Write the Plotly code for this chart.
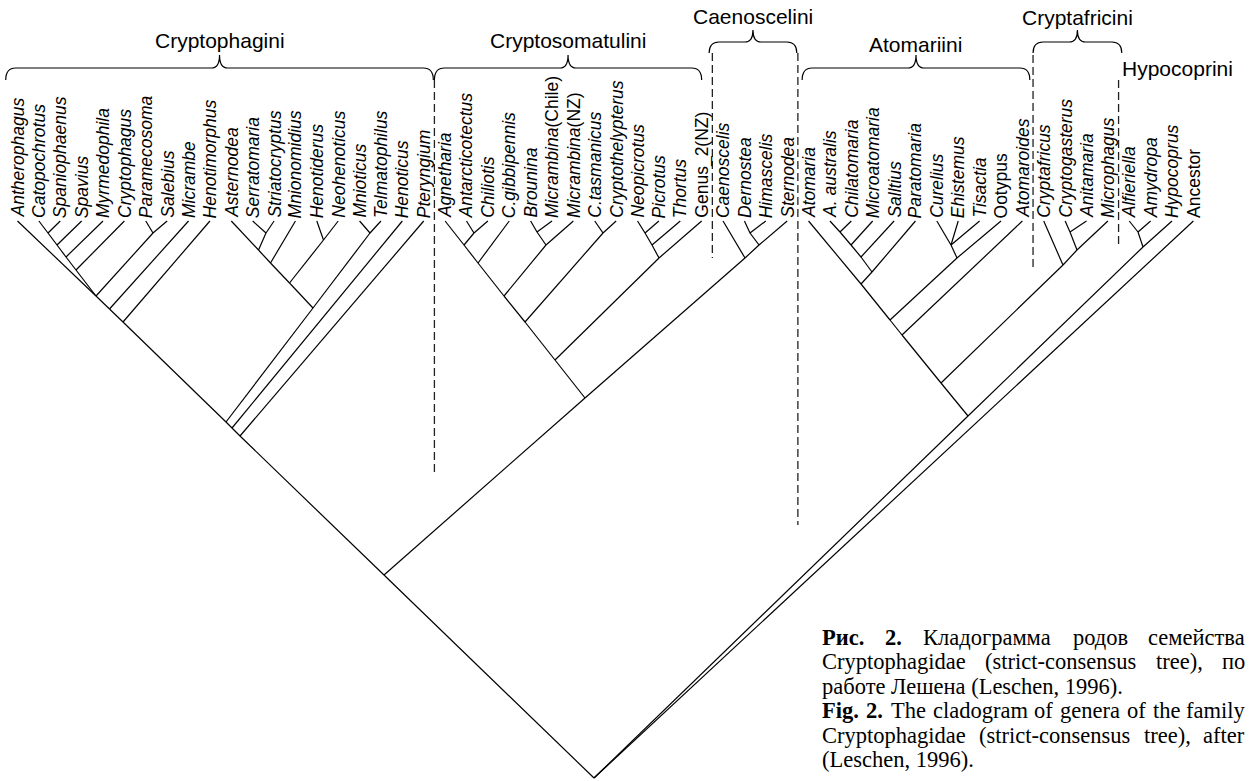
import plotly.graph_objects as go

W, H = 1249, 781

# ------------------------------------------------------------------ DATA
leaf_names = [
    "Antherophagus", "Catopochrotus", "Spaniophaenus", "Spavius", "Myrmedophila",
    "Cryptophagus", "Paramecosoma", "Salebius", "Micrambe", "Henotimorphus",
    "Asternodea", "Serratomaria", "Striatocryptus", "Mnionomidius", "Henotiderus",
    "Neohenoticus", "Mnioticus", "Telmatophilus", "Henoticus", "Pteryngium",
    "Agnetharia", "Antarcticotectus", "Chiliotis", "C.gibbipennis", "Brounina",
    "Micrambina(Chile)", "Micrambina(NZ)", "C.tasmanicus", "Cryptothelypterus",
    "Neopicrotus", "Picrotus", "Thortus", "Genus_2(NZ)",
    "Caenoscelis", "Dernostea", "Himascelis", "Sternodea",
    "Atomaria", "A. australis", "Chilatomaria", "Microatomaria", "Salltius",
    "Paratomaria", "Curelius", "Ehistemus", "Tisactia", "Ootypus", "Atomaroides",
    "Cryptafricus", "Cryptogasterus", "Anitamaria", "Microphagus",
    "Alfieriella", "Amydropa", "Hypocoprus", "Ancestor",
]

# internal nodes of the strict-consensus tree (children, position)
node_ids = [
    "c1", "c2", "c3", "c4", "c5", "n1", "n2", "n3",
    "a1", "a2", "a3", "a4", "a5", "a6", "a7", "n4", "n5", "n6",
    "s1", "s2", "s3", "s4", "s5", "s6", "s7", "s8", "s9", "s10", "s11", "s12",
    "k1", "k2", "k3", "k4", "n7",
    "t1", "t2", "t3", "t4", "t5", "t6", "t7", "t8", "t9",
    "f1", "f2", "f3", "t10", "h1", "h2", "t11", "root",
]
node_children = [
    ["Catopochrotus", "Spaniophaenus"], ["c1", "Spavius"], ["c2", "Myrmedophila"],
    ["c3", "Cryptophagus"], ["Paramecosoma", "Salebius"],
    ["Antherophagus", "c4", "c5"], ["n1", "Micrambe"], ["n2", "Henotimorphus"],
    ["Serratomaria", "Striatocryptus"], ["Asternodea", "a1"], ["a2", "Mnionomidius"],
    ["Henotiderus", "Neohenoticus"], ["a3", "a4"], ["Mnioticus", "Telmatophilus"],
    ["a5", "a6"], ["n3", "a7"], ["n4", "Henoticus"], ["n5", "Pteryngium"],
    ["Antarcticotectus", "Chiliotis"], ["Agnetharia", "s1"], ["s2", "C.gibbipennis"],
    ["Brounina", "Micrambina(Chile)"], ["s4", "Micrambina(NZ)"], ["s3", "s5"],
    ["C.tasmanicus", "Cryptothelypterus"], ["s6", "s7"], ["Neopicrotus", "Picrotus"],
    ["s9", "Thortus"], ["s10", "Genus_2(NZ)"], ["s8", "s11"],
    ["Dernostea", "Himascelis"], ["Sternodea", "k1"], ["k2", "Caenoscelis"],
    ["s12", "k3"], ["n6", "k4"],
    ["A. australis", "Chilatomaria"], ["t1", "Microatomaria"], ["t2", "Salltius"],
    ["t3", "Paratomaria"], ["Atomaria", "t4"], ["Curelius", "Ehistemus", "Tisactia"],
    ["t6", "Ootypus"], ["t5", "t7"], ["t8", "Atomaroides"],
    ["Cryptogasterus", "Anitamaria"], ["f1", "Microphagus"], ["f2", "Cryptafricus"],
    ["t9", "f3"], ["Alfieriella", "Amydropa"], ["h1", "Hypocoprus"], ["t10", "h2"],
    ["n7", "t11", "Ancestor"],
]
node_x = [
    48, 57, 66, 76, 153, 96, 109.5, 123,
    266, 258.5, 270.5, 323.5, 289.5, 370, 313, 226, 232, 240,
    474, 464, 478, 537, 546, 504, 603, 525, 645, 652, 659, 555,
    750, 759, 745, 585, 384,
    840, 851, 861, 872, 861, 951, 957, 890, 902,
    1070, 1077, 1063, 941, 1138, 1143, 968, 594,
]
node_y = [
    233, 245, 257, 270, 233, 296, 309, 322,
    233, 250, 263, 240, 283, 233, 308, 422, 428, 436,
    233, 245, 263, 232, 245, 296, 233, 322, 233, 245, 258, 360,
    233, 245, 258, 398, 575,
    232, 245, 257, 272, 284, 245, 258, 320, 335,
    232, 250, 265, 383, 232, 247, 416, 778,
]

tribe_names = ["Cryptophagini", "Cryptosomatulini", "Caenoscelini",
               "Atomariini", "Cryptafricini", "Hypocoprini"]
tribe_first = ["Antherophagus", "Agnetharia", "Caenoscelis",
               "Atomaria", "Cryptafricus", "Alfieriella"]
tribe_last = ["Pteryngium", "Genus_2(NZ)", "Sternodea",
              "Atomaroides", "Microphagus", "Ancestor"]

caption_lines = [
    ([("Рис.", True), ("2.", True), ("Кладограмма", False), ("родов", False), ("семейства", False)], True),
    ([("Cryptophagidae", False), ("(strict-consensus", False), ("tree),", False), ("по", False)], True),
    ([("работе Лешена (Leschen, 1996).", False)], False),
    ([("Fig.", True), ("2.", True), ("The", False), ("cladogram", False), ("of", False),
      ("genera", False), ("of", False), ("the", False), ("family", False)], True),
    ([("Cryptophagidae", False), ("(strict-consensus", False), ("tree),", False), ("after", False)], True),
    ([("(Leschen, 1996).", False)], False),
]

# ------------------------------------------------------------------ STYLE / LAYOUT
TIP_X0, TIP_DX, TIP_Y = 17.5, 21.38, 221
LEAF_FONT = dict(family="Liberation Sans, Arial, sans-serif", size=17.5, color="black")
TRIBE_FONT = dict(family="Liberation Sans, Arial, sans-serif", size=21, color="black")
CAP_FONT = dict(family="Liberation Serif, Times New Roman, serif", size=22.5, color="black")
upright_leaves = {"Genus_2(NZ)", "Ootypus", "Ancestor"}
split_italic = {"Micrambina(Chile)": ("Micrambina", "(Chile)"),
                "Micrambina(NZ)": ("Micrambina", "(NZ)")}
# bracket tiers: (tip y, bar y, peak y)
tier = {"low": (80, 68, 55), "high": (53, 42, 30)}
tribe_tier = ["low", "low", "high", "low", "high", None]
tribe_label_y = [40, 40, 16.5, 44, 17.5, 68]
tribe_pad = [(-0.55, 0.45), (-0.5, 0.0), (-0.65, 0.45), (-0.3, 0.35), (-0.5, 0.65), (None, None)]
dash_ranges = [(80, 472), (53, 258), (53, 525), (55, 270), (80, 245)]
CAP_X0, CAP_X1 = 821, 1246
cap_y = [637, 661.5, 686, 710.5, 735, 759.5]

pos = {}
for i, nm in enumerate(leaf_names):
    pos[nm] = (TIP_X0 + TIP_DX * i, TIP_Y)
for nid, x, y in zip(node_ids, node_x, node_y):
    pos[nid] = (x, y)

ex, ey = [], []
for nid, kids in zip(node_ids, node_children):
    px, py = pos[nid]
    for k in kids:
        cx, cy = pos[k]
        ex += [cx, px, None]
        ey += [cy, py, None]

fig = go.Figure()
fig.add_trace(go.Scatter(x=ex, y=ey, mode="lines",
                         line=dict(color="black", width=1.2),
                         hoverinfo="skip", showlegend=False))

annotations = []
for nm in leaf_names:
    x, y = pos[nm]
    if nm in split_italic:
        a, b = split_italic[nm]
        txt = f"<i>{a}</i>{b}"
    elif nm in upright_leaves:
        txt = nm
    else:
        txt = f"<i>{nm}</i>"
    annotations.append(dict(x=x, y=y - 2, xref="x", yref="y", text=txt, showarrow=False,
                            textangle=-90, xanchor="center", yanchor="bottom",
                            font=LEAF_FONT, borderpad=0))

shapes = []
for i, nm in enumerate(tribe_names):
    xl0 = pos[tribe_first[i]][0]
    xr0 = pos[tribe_last[i]][0]
    if tribe_tier[i] is None:
        annotations.append(dict(x=(xl0 + pos[tribe_first[i - 1]][0]) / 2 * 0 + (pos[tribe_last[i - 1]][0] + xl0) / 2 + 2,
                                y=tribe_label_y[i], xref="x", yref="y", text=nm,
                                showarrow=False, xanchor="left", yanchor="middle",
                                font=TRIBE_FONT, borderpad=0))
        continue
    yt, yb, yp = tier[tribe_tier[i]]
    xl = xl0 + tribe_pad[i][0] * TIP_DX
    xr = xr0 + tribe_pad[i][1] * TIP_DX
    xc = (xl + xr) / 2
    r = 10
    path = (f"M {xl},{yt} Q {xl},{yb} {xl + r},{yb} L {xc - 8},{yb} "
            f"Q {xc},{yb} {xc},{yp} Q {xc},{yb} {xc + 8},{yb} "
            f"L {xr - r},{yb} Q {xr},{yb} {xr},{yt}")
    shapes.append(dict(type="path", path=path, xref="x", yref="y",
                       line=dict(color="black", width=1.2)))
    annotations.append(dict(x=xc, y=tribe_label_y[i], xref="x", yref="y", text=nm,
                            showarrow=False, xanchor="center", yanchor="middle",
                            font=TRIBE_FONT, borderpad=0))

for i in range(len(tribe_names) - 1):
    xd = (pos[tribe_last[i]][0] + pos[tribe_first[i + 1]][0]) / 2
    y0, y1 = dash_ranges[i]
    shapes.append(dict(type="line", x0=xd, x1=xd, y0=y0, y1=y1, xref="x", yref="y",
                       line=dict(color="#222", width=1.3, dash="8px,4px")))

# caption (justified lines distribute words between the margins)
tw = {}
for c, w in zip("abcdefghijklmnopqrstuvwxyz",
                [444, 500, 444, 500, 444, 333, 500, 500, 278, 278, 500, 278, 778, 500, 500, 500,
                 500, 333, 389, 278, 500, 500, 722, 500, 500, 444]):
    tw[c] = w
for c, w in zip("CFLT", [667, 556, 611, 611]):
    tw[c] = w
for c, w in zip("абвгдежзийклмнопрстуфхцчшщъыьэюя",
                [444, 500, 472, 410, 509, 444, 691, 395, 535, 535, 486, 499, 633, 535, 500, 535,
                 500, 444, 437, 500, 648, 500, 535, 503, 770, 770, 517, 672, 456, 429, 747, 460]):
    tw[c] = w
for c, w in zip("РКЛ", [556, 722, 666]):
    tw[c] = w
for c, w in zip("0123456789.,()- ", [500] * 10 + [250, 250, 333, 333, 333, 250]):
    tw[c] = w


def est_width(s, bold):
    return sum(tw.get(ch, 500) for ch in s) / 1000 * CAP_FONT["size"] * (1.06 if bold else 1.0)


for li, (words, justified) in enumerate(caption_lines):
    y = cap_y[li]
    if not justified:
        txt = "".join(f"<b>{w}</b>" if b else w for w, b in words)
        annotations.append(dict(x=CAP_X0, y=y, xref="x", yref="y", text=txt, showarrow=False,
                                xanchor="left", yanchor="middle", font=CAP_FONT, borderpad=0))
        continue
    widths = [est_width(w, b) for w, b in words]
    gap = (CAP_X1 - CAP_X0 - sum(widths)) / (len(words) - 1)
    left = CAP_X0
    for j, ((w, b), wd) in enumerate(zip(words, widths)):
        txt = f"<b>{w}</b>" if b else w
        if j == 0:
            ax, anc = CAP_X0, "left"
        elif j == len(words) - 1:
            ax, anc = CAP_X1, "right"
        else:
            ax, anc = left + wd / 2, "center"
        annotations.append(dict(x=ax, y=y, xref="x", yref="y", text=txt, showarrow=False,
                                xanchor=anc, yanchor="middle", font=CAP_FONT, borderpad=0))
        left += wd + gap

fig.update_layout(
    width=W, height=H, margin=dict(l=0, r=0, t=0, b=0),
    paper_bgcolor="white", plot_bgcolor="white",
    xaxis=dict(range=[0, W], visible=False, fixedrange=True),
    yaxis=dict(range=[H, 0], visible=False, fixedrange=True),
    shapes=shapes, annotations=annotations, showlegend=False,
)

fig.write_html("out.html", config={"displayModeBar": False},
               post_script="document.body.style.margin='0';document.body.style.overflow='hidden';")
